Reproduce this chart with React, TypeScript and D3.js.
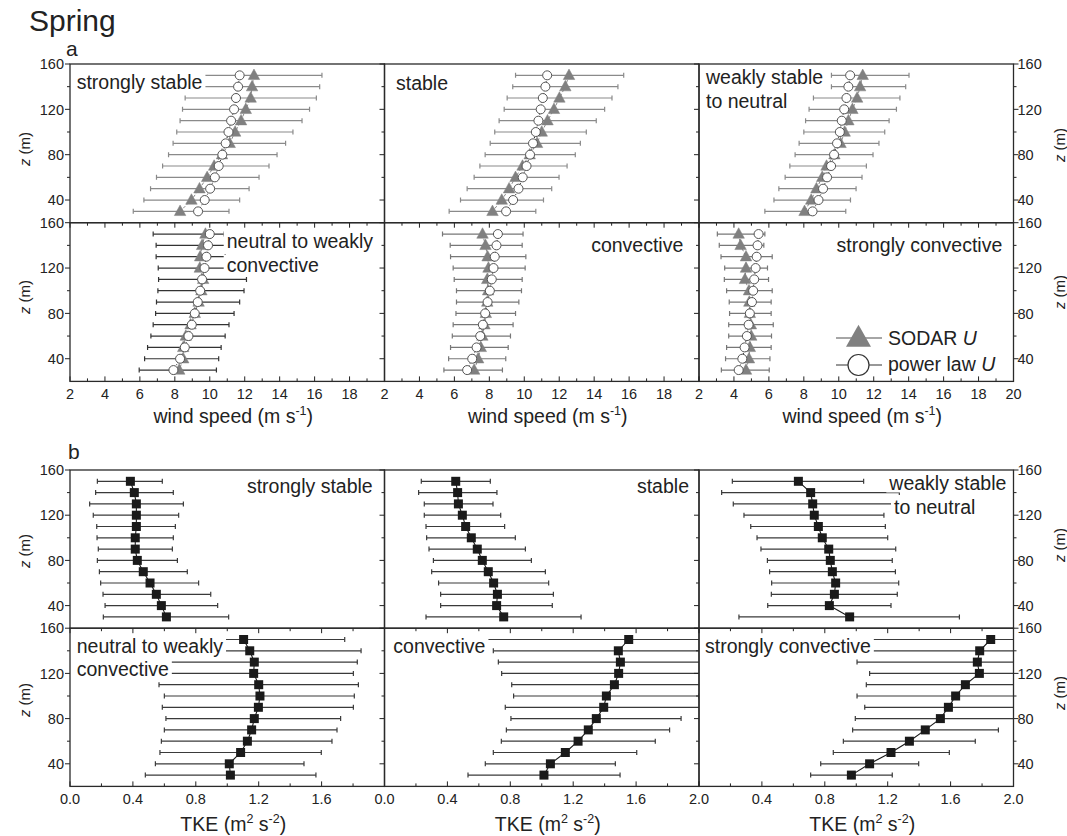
import React from 'react';
import * as d3 from 'd3';

// ---------------- data ----------------
const HEIGHTS = [150, 140, 130, 120, 110, 100, 90, 80, 70, 60, 50, 40, 30];
const Z_MAJOR = [40, 80, 120, 160];
const Z_MINOR = [60, 100, 140];
const WIND_MAJOR = [2, 4, 6, 8, 10, 12, 14, 16, 18, 20];
const TKE_MAJOR = [0, 0.4, 0.8, 1.2, 1.6, 2.0];

// panel a: wind speed (m s-1)
const A_SS_SODAR = [12.53, 12.42, 12.34, 12.06, 11.79, 11.45, 11.14, 10.7, 10.25, 9.85, 9.41, 8.95, 8.3];
const A_SS_POWER = [11.71, 11.62, 11.5, 11.39, 11.22, 11.07, 10.91, 10.72, 10.51, 10.29, 10.02, 9.71, 9.33];
const A_SS_LO = [9.3, 9.0, 8.59, 8.44, 8.3, 8.11, 7.9, 7.64, 7.3, 6.95, 6.61, 6.23, 5.62];
const A_SS_HI = [16.42, 16.29, 16.1, 15.71, 15.28, 14.76, 14.34, 13.85, 13.39, 12.82, 12.25, 11.71, 11.1];

const A_S_SODAR = [12.56, 12.35, 12.01, 11.7, 11.33, 11.0, 10.73, 10.31, 9.9, 9.5, 9.13, 8.71, 8.18];
const A_S_POWER = [11.31, 11.21, 11.06, 10.94, 10.81, 10.66, 10.5, 10.33, 10.13, 9.91, 9.67, 9.36, 8.96];
const A_S_LO = [9.5, 9.34, 9.02, 8.85, 8.56, 8.31, 8.05, 7.76, 7.46, 7.13, 6.73, 6.35, 5.7];
const A_S_HI = [15.69, 15.36, 15.02, 14.6, 14.12, 13.55, 13.21, 12.92, 12.45, 11.99, 11.57, 11.1, 10.66];

const A_WSN_SODAR = [11.37, 11.22, 11.05, 10.78, 10.55, 10.34, 10.1, 9.75, 9.3, 9.05, 8.72, 8.42, 8.04];
const A_WSN_POWER = [10.65, 10.55, 10.44, 10.31, 10.17, 10.06, 9.9, 9.73, 9.56, 9.33, 9.1, 8.84, 8.5];
const A_WSN_LO = [9.58, 9.58, 8.55, 8.3, 8.1, 8.0, 7.73, 7.5, 7.2, 6.93, 6.57, 6.29, 5.77];
const A_WSN_HI = [14.02, 13.83, 13.5, 13.3, 12.88, 12.63, 12.3, 11.96, 11.58, 11.33, 10.99, 10.67, 10.4];

const A_NWC_SODAR = [9.75, 9.56, 9.45, 9.43, 9.62, 9.52, 9.36, 9.14, 8.9, 8.63, 8.48, 8.48, 8.25];
const A_NWC_POWER = [10.0, 9.9, 9.81, 9.7, 9.56, 9.45, 9.31, 9.14, 8.97, 8.78, 8.57, 8.3, 7.92];
const A_NWC_LO = [6.76, 6.93, 6.93, 7.05, 7.07, 7.03, 6.95, 6.9, 6.76, 6.63, 6.44, 6.27, 5.96];
const A_NWC_HI = [10.82, 11.5, 10.88, 12.0, 12.1, 11.96, 11.71, 11.39, 11.1, 10.88, 10.65, 10.51, 10.38];

const A_C_SODAR = [7.61, 7.78, 7.9, 7.95, 7.88, 7.93, 7.88, 7.8, 7.72, 7.6, 7.51, 7.36, 7.13];
const A_C_POWER = [8.49, 8.41, 8.31, 8.24, 8.14, 8.03, 7.9, 7.76, 7.63, 7.48, 7.27, 7.02, 6.73];
const A_C_LO = [5.32, 5.76, 5.78, 5.93, 5.99, 6.12, 6.12, 6.09, 5.93, 5.88, 5.78, 5.67, 5.4];
const A_C_HI = [9.93, 9.88, 10.09, 10.05, 9.88, 9.84, 9.69, 9.5, 9.36, 9.21, 9.08, 8.94, 8.75];

const A_SC_SODAR = [4.27, 4.38, 4.69, 4.69, 4.63, 4.86, 4.88, 4.91, 4.97, 4.99, 4.91, 4.86, 4.69];
const A_SC_POWER = [5.41, 5.35, 5.3, 5.24, 5.16, 5.1, 5.03, 4.91, 4.84, 4.74, 4.61, 4.48, 4.27];
const A_SC_LO = [3.05, 3.16, 3.26, 3.47, 3.45, 3.58, 3.73, 3.75, 3.7, 3.7, 3.58, 3.52, 3.28];
const A_SC_HI = [5.77, 5.71, 6.19, 5.92, 5.98, 6.19, 6.13, 6.13, 6.25, 6.15, 6.13, 6.06, 6.02];

// panel b: TKE (m2 s-2)
const B_SS_TKE = [0.384, 0.409, 0.422, 0.422, 0.422, 0.415, 0.415, 0.428, 0.466, 0.509, 0.549, 0.581, 0.613];
const B_SS_LO = [0.174, 0.163, 0.125, 0.148, 0.17, 0.172, 0.18, 0.174, 0.187, 0.195, 0.21, 0.223, 0.212];
const B_SS_HI = [0.587, 0.657, 0.721, 0.691, 0.67, 0.657, 0.651, 0.683, 0.746, 0.818, 0.895, 0.939, 1.009];

const B_S_TKE = [0.453, 0.465, 0.47, 0.495, 0.516, 0.552, 0.59, 0.622, 0.66, 0.694, 0.718, 0.713, 0.758];
const B_S_LO = [0.234, 0.217, 0.253, 0.253, 0.264, 0.268, 0.283, 0.311, 0.3, 0.344, 0.357, 0.357, 0.264];
const B_S_HI = [0.673, 0.715, 0.69, 0.739, 0.764, 0.832, 0.896, 0.934, 1.023, 1.044, 1.074, 1.067, 1.25];

const B_WSN_TKE = [0.632, 0.71, 0.723, 0.733, 0.759, 0.784, 0.825, 0.835, 0.848, 0.869, 0.861, 0.829, 0.958];
const B_WSN_LO = [0.212, 0.144, 0.218, 0.286, 0.329, 0.369, 0.394, 0.435, 0.449, 0.462, 0.46, 0.437, 0.254];
const B_WSN_HI = [1.047, 1.274, 1.225, 1.176, 1.185, 1.2, 1.251, 1.229, 1.249, 1.27, 1.261, 1.221, 1.656];

const B_NWC_TKE = [1.104, 1.143, 1.172, 1.168, 1.2, 1.208, 1.198, 1.172, 1.155, 1.128, 1.085, 1.013, 1.02];
const B_NWC_LO = [0.62, 0.61, 0.6, 0.59, 0.566, 0.6, 0.587, 0.61, 0.6, 0.581, 0.572, 0.543, 0.479];
const B_NWC_HI = [1.747, 1.851, 1.827, 1.802, 1.834, 1.808, 1.802, 1.721, 1.698, 1.666, 1.598, 1.488, 1.564];

const B_C_TKE = [1.553, 1.487, 1.5, 1.489, 1.462, 1.411, 1.394, 1.347, 1.296, 1.231, 1.15, 1.055, 1.014];
const B_C_LO = [0.62, 0.692, 0.724, 0.745, 0.809, 0.821, 0.768, 0.804, 0.775, 0.743, 0.692, 0.641, 0.531];
const B_C_HI = [2.2, 2.15, 2.1, 2.05, 2.05, 2.0, 2.05, 1.886, 1.813, 1.722, 1.604, 1.468, 1.498];

const B_SC_TKE = [1.855, 1.785, 1.77, 1.783, 1.694, 1.632, 1.586, 1.535, 1.439, 1.338, 1.221, 1.085, 0.969];
const B_SC_LO = [1.0, 1.0, 1.005, 1.085, 1.064, 1.005, 1.054, 0.994, 0.977, 0.918, 0.854, 0.774, 0.71];
const B_SC_HI = [2.5, 2.5, 2.45, 2.45, 2.4, 2.3, 2.2, 2.1, 1.904, 1.757, 1.592, 1.397, 1.229];

// ---------------- layout ----------------
const FONT = '"Liberation Sans", Arial, Helvetica, sans-serif';
const COL_X = [70, 384.5, 699];
const COL_W = 314.5;
const A_ROWS = [64, 222.7];
const A_ROW_H = 158.7;
const B_ROWS = [470, 628.2];
const B_ROW_H = 158.2;
const LABEL_SIZE = 19.5;
const TICK_SIZE = 14.5;

type Label = { text: string; x: number; y: number; anchor: 'start' | 'end' };
type SubA = { col: number; row: number; sodar: number[]; power: number[]; lo: number[]; hi: number[]; bar: string; labels: Label[] };
type SubB = { col: number; row: number; tke: number[]; lo: number[]; hi: number[]; labels: Label[] };

const PANEL_A: SubA[] = [
  { col: 0, row: 0, sodar: A_SS_SODAR, power: A_SS_POWER, lo: A_SS_LO, hi: A_SS_HI, bar: '#8a8a8a', labels: [{ text: 'strongly stable', x: 76.7, y: 89, anchor: 'start' }] },
  { col: 1, row: 0, sodar: A_S_SODAR, power: A_S_POWER, lo: A_S_LO, hi: A_S_HI, bar: '#8a8a8a', labels: [{ text: 'stable', x: 396, y: 90, anchor: 'start' }] },
  { col: 2, row: 0, sodar: A_WSN_SODAR, power: A_WSN_POWER, lo: A_WSN_LO, hi: A_WSN_HI, bar: '#8a8a8a', labels: [{ text: 'weakly stable', x: 706, y: 84.3, anchor: 'start' }, { text: 'to neutral', x: 706, y: 107.7, anchor: 'start' }] },
  { col: 0, row: 1, sodar: A_NWC_SODAR, power: A_NWC_POWER, lo: A_NWC_LO, hi: A_NWC_HI, bar: '#333333', labels: [{ text: 'neutral to weakly', x: 226.7, y: 248.3, anchor: 'start' }, { text: 'convective', x: 226.7, y: 272.3, anchor: 'start' }] },
  { col: 1, row: 1, sodar: A_C_SODAR, power: A_C_POWER, lo: A_C_LO, hi: A_C_HI, bar: '#777777', labels: [{ text: 'convective', x: 683.3, y: 251.7, anchor: 'end' }] },
  { col: 2, row: 1, sodar: A_SC_SODAR, power: A_SC_POWER, lo: A_SC_LO, hi: A_SC_HI, bar: '#777777', labels: [{ text: 'strongly convective', x: 1002.3, y: 252.3, anchor: 'end' }] },
];

const PANEL_B: SubB[] = [
  { col: 0, row: 0, tke: B_SS_TKE, lo: B_SS_LO, hi: B_SS_HI, labels: [{ text: 'strongly stable', x: 372.7, y: 492.7, anchor: 'end' }] },
  { col: 1, row: 0, tke: B_S_TKE, lo: B_S_LO, hi: B_S_HI, labels: [{ text: 'stable', x: 689, y: 493.3, anchor: 'end' }] },
  { col: 2, row: 0, tke: B_WSN_TKE, lo: B_WSN_LO, hi: B_WSN_HI, labels: [{ text: 'weakly stable', x: 889.3, y: 490, anchor: 'start' }, { text: 'to neutral', x: 894, y: 514, anchor: 'start' }] },
  { col: 0, row: 1, tke: B_NWC_TKE, lo: B_NWC_LO, hi: B_NWC_HI, labels: [{ text: 'neutral to weakly', x: 76.7, y: 652.7, anchor: 'start' }, { text: 'convective', x: 76.7, y: 675.7, anchor: 'start' }] },
  { col: 1, row: 1, tke: B_C_TKE, lo: B_C_LO, hi: B_C_HI, labels: [{ text: 'convective', x: 393.3, y: 653.3, anchor: 'start' }] },
  { col: 2, row: 1, tke: B_SC_TKE, lo: B_SC_LO, hi: B_SC_HI, labels: [{ text: 'strongly convective', x: 705, y: 652.7, anchor: 'start' }] },
];

let _ctx: CanvasRenderingContext2D | null = null;
function measure(text: string, size: number): number {
  if (!_ctx && typeof document !== 'undefined') _ctx = document.createElement('canvas').getContext('2d');
  if (!_ctx) return text.length * size * 0.5;
  _ctx.font = `${size}px "Liberation Sans", Arial, sans-serif`;
  return _ctx.measureText(text).width;
}

function Labels({ labels }: { labels: Label[] }) {
  return (
    <g>
      {labels.map((l, i) => {
        const w = measure(l.text, LABEL_SIZE);
        const x1 = l.anchor === 'start' ? l.x - 3 : l.x - w - 3;
        return <rect key={'r' + i} x={x1} y={l.y - 17.5} width={w + 6} height={20} fill="#fff" />;
      })}
      {labels.map((l, i) => (
        <text key={'t' + i} x={l.x} y={l.y} textAnchor={l.anchor} fontSize={LABEL_SIZE} fill="#222">{l.text}</text>
      ))}
    </g>
  );
}

function Axes({ col, row, y0, h, xs, majors, kind }: { col: number; row: number; y0: number; h: number; xs: d3.ScaleLinear<number, number>; majors: number[]; kind: 'a' | 'b' }) {
  const ys = d3.scaleLinear().domain([20, 160]).range([y0 + h, y0]);
  const x0 = COL_X[col];
  const x1 = x0 + COL_W;
  const yb = y0 + h;
  const minors = majors.slice(0, -1).map((m, i) => (m + majors[i + 1]) / 2);
  const dir = row === 0 ? 1 : -1;
  let labelTicks: number[] = [];
  if (row === 1) {
    if (kind === 'a') labelTicks = col === 2 ? majors : majors.slice(0, -1);
    else labelTicks = col === 0 ? majors.slice(0, -1) : col === 1 ? majors : majors.slice(1);
  }
  const fmt = kind === 'a' ? d3.format('d') : d3.format('.1f');
  return (
    <g>
      {Z_MAJOR.map((z) => <line key={'ym' + z} x1={x0 - 5} x2={x0} y1={ys(z)} y2={ys(z)} stroke="#222" strokeWidth={1} />)}
      {Z_MINOR.map((z) => <line key={'yn' + z} x1={x0 - 3} x2={x0} y1={ys(z)} y2={ys(z)} stroke="#222" strokeWidth={1} />)}
      {col === 2 && Z_MAJOR.map((z) => <line key={'yrm' + z} x1={x1} x2={x1 + 5} y1={ys(z)} y2={ys(z)} stroke="#222" strokeWidth={1} />)}
      {col === 2 && Z_MINOR.map((z) => <line key={'yrn' + z} x1={x1} x2={x1 + 3} y1={ys(z)} y2={ys(z)} stroke="#222" strokeWidth={1} />)}
      {col === 0 && Z_MAJOR.map((z) => <text key={'yl' + z} x={64} y={ys(z) + 5.2} textAnchor="end" fontSize={TICK_SIZE} fill="#222">{z}</text>)}
      {col === 2 && Z_MAJOR.map((z) => <text key={'yr' + z} x={x1 + 4} y={ys(z) + 5.2} textAnchor="start" fontSize={TICK_SIZE} fill="#222">{z}</text>)}
      {majors.map((v) => <line key={'xm' + v} x1={xs(v)} x2={xs(v)} y1={yb} y2={yb + dir * 5} stroke="#222" strokeWidth={1} />)}
      {minors.map((v) => <line key={'xn' + v} x1={xs(v)} x2={xs(v)} y1={yb} y2={yb + dir * 3} stroke="#222" strokeWidth={1} />)}
      {labelTicks.map((v) => <text key={'xl' + v} x={xs(v)} y={yb + (kind === 'a' ? 18 : 17.5)} textAnchor="middle" fontSize={TICK_SIZE} fill="#222">{fmt(v)}</text>)}
    </g>
  );
}

function ErrorBars({ xs, ys, lo, hi, color }: { xs: d3.ScaleLinear<number, number>; ys: d3.ScaleLinear<number, number>; lo: number[]; hi: number[]; color: string }) {
  return (
    <g stroke={color} strokeWidth={1.2}>
      {HEIGHTS.map((z, i) => {
        const y = ys(z);
        return (
          <g key={z}>
            <line x1={xs(lo[i])} x2={xs(hi[i])} y1={y} y2={y} />
            <line x1={xs(lo[i])} x2={xs(lo[i])} y1={y - 2.5} y2={y + 2.5} />
            <line x1={xs(hi[i])} x2={xs(hi[i])} y1={y - 2.5} y2={y + 2.5} />
          </g>
        );
      })}
    </g>
  );
}

function triPath(cx: number, cy: number, w: number, h: number) {
  return `M${cx},${cy - h * 0.6}L${cx + w / 2},${cy + h * 0.4}L${cx - w / 2},${cy + h * 0.4}Z`;
}

function SubplotA({ s }: { s: SubA }) {
  const y0 = A_ROWS[s.row];
  const x0 = COL_X[s.col];
  const xs = d3.scaleLinear().domain([2, 20]).range([x0, x0 + COL_W]);
  const ys = d3.scaleLinear().domain([20, 160]).range([y0 + A_ROW_H, y0]);
  const clip = `clipA${s.col}${s.row}`;
  const lineS = d3.line<number>().x((v) => xs(v)).y((_, i) => ys(HEIGHTS[i]));
  return (
    <g>
      <clipPath id={clip}><rect x={x0} y={y0} width={COL_W} height={A_ROW_H} /></clipPath>
      <g clipPath={`url(#${clip})`}>
        <ErrorBars xs={xs} ys={ys} lo={s.lo} hi={s.hi} color={s.bar} />
        <Labels labels={s.labels} />
        <path d={lineS(s.sodar) || ''} fill="none" stroke="#888" strokeWidth={1} strokeDasharray="3,2" />
        <path d={lineS(s.power) || ''} fill="none" stroke="#222" strokeWidth={1} strokeDasharray="1,2" />
        {HEIGHTS.map((z, i) => <path key={'t' + z} d={triPath(xs(s.sodar[i]), ys(z), 11.5, 10.5)} fill="#808080" stroke="#808080" strokeWidth={0.5} />)}
        {HEIGHTS.map((z, i) => <circle key={'c' + z} cx={xs(s.power[i])} cy={ys(z)} r={4.5} fill="#fff" stroke="#555" strokeWidth={1} />)}
      </g>
      <Axes col={s.col} row={s.row} y0={y0} h={A_ROW_H} xs={xs} majors={WIND_MAJOR} kind="a" />
      <rect x={x0} y={y0} width={COL_W} height={A_ROW_H} fill="none" stroke="#2a2a2a" strokeWidth={1.3} />
    </g>
  );
}

function SubplotB({ s }: { s: SubB }) {
  const y0 = B_ROWS[s.row];
  const x0 = COL_X[s.col];
  const xs = d3.scaleLinear().domain([0, 2]).range([x0, x0 + COL_W]);
  const ys = d3.scaleLinear().domain([20, 160]).range([y0 + B_ROW_H, y0]);
  const clip = `clipB${s.col}${s.row}`;
  const line = d3.line<number>().x((v) => xs(v)).y((_, i) => ys(HEIGHTS[i]));
  return (
    <g>
      <clipPath id={clip}><rect x={x0} y={y0} width={COL_W} height={B_ROW_H} /></clipPath>
      <g clipPath={`url(#${clip})`}>
        <ErrorBars xs={xs} ys={ys} lo={s.lo} hi={s.hi} color="#3a3a3a" />
        <Labels labels={s.labels} />
        <path d={line(s.tke) || ''} fill="none" stroke="#1a1a1a" strokeWidth={1.1} />
        {HEIGHTS.map((z, i) => <rect key={'q' + z} x={xs(s.tke[i]) - 4.5} y={ys(z) - 4.5} width={9} height={9} fill="#1a1a1a" />)}
      </g>
      <Axes col={s.col} row={s.row} y0={y0} h={B_ROW_H} xs={xs} majors={TKE_MAJOR} kind="b" />
      <rect x={x0} y={y0} width={COL_W} height={B_ROW_H} fill="none" stroke="#2a2a2a" strokeWidth={1.3} />
    </g>
  );
}

function ZTitle({ x, y }: { x: number; y: number }) {
  return (
    <text transform={`translate(${x},${y}) rotate(-90)`} textAnchor="middle" fontSize={15} fill="#222">
      <tspan fontStyle="italic">z</tspan> (m)
    </text>
  );
}

export default function App() {
  const colCenters = COL_X.map((x) => x + COL_W / 2);
  return (
    <svg width={1067} height={836} style={{ position: 'absolute', left: 0, top: 0, background: '#fff' }} fontFamily={FONT}>
      <rect x={0} y={0} width={1067} height={836} fill="#fff" />
      <text x={29} y={31} fontSize={30} fill="#222">Spring</text>
      <text x={66} y={56} fontSize={21} fill="#222">a</text>
      <text x={68} y={459} fontSize={21} fill="#222">b</text>

      {PANEL_A.map((s) => <SubplotA key={'a' + s.col + s.row} s={s} />)}
      {PANEL_B.map((s) => <SubplotB key={'b' + s.col + s.row} s={s} />)}

      {/* legend */}
      <g>
        <line x1={836} x2={882} y1={338} y2={338} stroke="#888" strokeWidth={1.5} />
        <path d={triPath(858.5, 338, 25, 22)} fill="#808080" />
        <text x={888} y={345} fontSize={LABEL_SIZE} fill="#222">SODAR <tspan fontStyle="italic">U</tspan></text>
        <line x1={836} x2={882} y1={365} y2={365} stroke="#333" strokeWidth={1.2} />
        <circle cx={858.5} cy={365} r={10.5} fill="#fff" stroke="#333" strokeWidth={1.2} />
        <text x={888} y={370.5} fontSize={LABEL_SIZE} fill="#222">power law <tspan fontStyle="italic">U</tspan></text>
      </g>

      {colCenters.map((cx, i) => (
        <text key={'wx' + i} x={cx + 6} y={423} textAnchor="middle" fontSize={LABEL_SIZE} fill="#222">
          wind speed (m s<tspan fontSize={12.5} dy={-8}>-1</tspan><tspan dy={8}>)</tspan>
        </text>
      ))}
      {colCenters.map((cx, i) => (
        <text key={'tx' + i} x={cx + 6} y={831} textAnchor="middle" fontSize={LABEL_SIZE} fill="#222">
          TKE (m<tspan fontSize={12.5} dy={-8}>2</tspan><tspan dy={8}> s</tspan><tspan fontSize={12.5} dy={-8}>-2</tspan><tspan dy={8}>)</tspan>
        </text>
      ))}

      <ZTitle x={30} y={149} />
      <ZTitle x={30} y={297} />
      <ZTitle x={1065} y={145} />
      <ZTitle x={1065} y={292} />
      <ZTitle x={30} y={551} />
      <ZTitle x={30} y={700} />
      <ZTitle x={1065} y={545} />
      <ZTitle x={1065} y={693} />
    </svg>
  );
}
